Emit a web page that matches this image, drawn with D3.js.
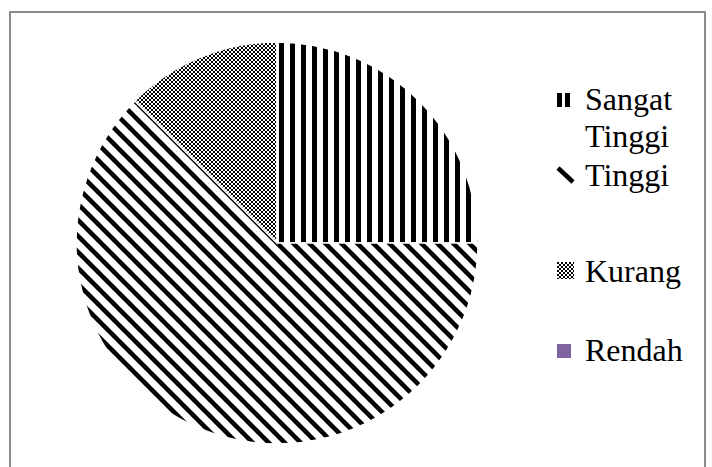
<!DOCTYPE html>
<html>
<head>
<meta charset="utf-8">
<script src="https://cdn.jsdelivr.net/npm/d3@7/dist/d3.min.js"></script>
<style>
  body { margin: 0; background: #fff; }
  svg { display: block; }
</style>
</head>
<body>
<div id="chart"></div>
<script>
// Data
const categories = ["Sangat Tinggi", "Tinggi", "Kurang", "Rendah"];
const values = [8, 20, 4, 0];
const labelLines = [["Sangat", "Tinggi"], ["Tinggi"], ["Kurang"], ["Rendah"]];

const width = 712;
const height = 467;
const cx = 277, cy = 243, radius = 201;

const svg = d3.select("#chart")
  .append("svg")
  .attr("width", width)
  .attr("height", height);

const defs = svg.append("defs");

// pattern builders
function vertical(id, ox, oy, period = 11, bar = 5) {
  const p = defs.append("pattern").attr("id", id)
    .attr("patternUnits", "userSpaceOnUse")
    .attr("x", ox).attr("y", oy).attr("width", period).attr("height", period);
  p.append("rect").attr("width", period).attr("height", period).attr("fill", "#fff");
  p.append("rect").attr("width", bar).attr("height", period).attr("fill", "#000");
}
function diagonal(id, ox, oy) {
  const s = 16;
  const p = defs.append("pattern").attr("id", id)
    .attr("patternUnits", "userSpaceOnUse")
    .attr("x", ox).attr("y", oy).attr("width", s).attr("height", s);
  p.append("rect").attr("width", s).attr("height", s).attr("fill", "#fff");
  p.append("path")
    .attr("d", `M-4,-4L${s + 4},${s + 4}M-4,${s - 4}L4,${s + 4}M${s - 4},-4L${s + 4},4`)
    .attr("stroke", "#000").attr("stroke-width", 4.5);
}
function checker(id, ox, oy) {
  const p = defs.append("pattern").attr("id", id)
    .attr("patternUnits", "userSpaceOnUse")
    .attr("x", ox).attr("y", oy).attr("width", 4).attr("height", 4);
  p.append("rect").attr("width", 4).attr("height", 4).attr("fill", "#fff");
  p.append("rect").attr("width", 2).attr("height", 2).attr("fill", "#000");
  p.append("rect").attr("x", 2).attr("y", 2).attr("width", 2).attr("height", 2).attr("fill", "#000");
}

vertical("p0", cx, 0);
diagonal("p1", 0, 0);
checker("p2", 0, 0);

const fills = ["url(#p0)", "url(#p1)", "url(#p2)", "#8064A2"];

// outer frame
svg.append("rect")
  .attr("x", 10).attr("y", 12)
  .attr("width", 695).attr("height", 480)
  .attr("fill", "none")
  .attr("stroke", "#8c8c8c")
  .attr("stroke-width", 2);

// Pie
const pie = d3.pie().sort(null).value(d => d);
const arc = d3.arc().innerRadius(0).outerRadius(radius);

svg.append("g")
  .attr("transform", `translate(${cx},${cy})`)
  .selectAll("path")
  .data(pie(values))
  .join("path")
  .attr("d", arc)
  .attr("fill", (d, i) => fills[i])
  .attr("stroke", "#fff")
  .attr("stroke-width", 1.5);

// Legend
const legendX = 557;
const baselines = [110, 186, 282, 361];
const legend = svg.append("g")
  .style("font-family", "Liberation Serif, Times New Roman, Times, serif")
  .style("font-size", "32px");

// marker boxes
const markerW = [13, 17, 17, 14];
const markerH = [14, 16, 17, 14];

categories.forEach((c, i) => {
  const mx = legendX, my = baselines[i] - markerH[i] - 3;
  if (i === 1) {
    // single bold "\" stroke, as the legend swatch shows it
    legend.append("line")
      .attr("x1", mx + 1).attr("y1", my + 1)
      .attr("x2", mx + markerW[i] - 1).attr("y2", my + markerH[i] - 1)
      .attr("stroke", "#000").attr("stroke-width", 4.5);
  } else {
    if (i === 0) vertical("l0", mx, my, 8, 5);
    if (i === 2) checker("l2", mx, my);
    const lf = i < 3 ? `url(#l${i})` : fills[3];
    legend.append("rect")
      .attr("x", mx).attr("y", my)
      .attr("width", markerW[i]).attr("height", markerH[i])
      .attr("fill", lf);
  }

  const t = legend.append("text")
    .attr("x", 585)
    .attr("y", baselines[i])
    .attr("fill", "#000");
  labelLines[i].forEach((ln, k) => {
    t.append("tspan").attr("x", 585).attr("dy", k === 0 ? 0 : 37).text(ln);
  });
});
</script>
</body>
</html>
